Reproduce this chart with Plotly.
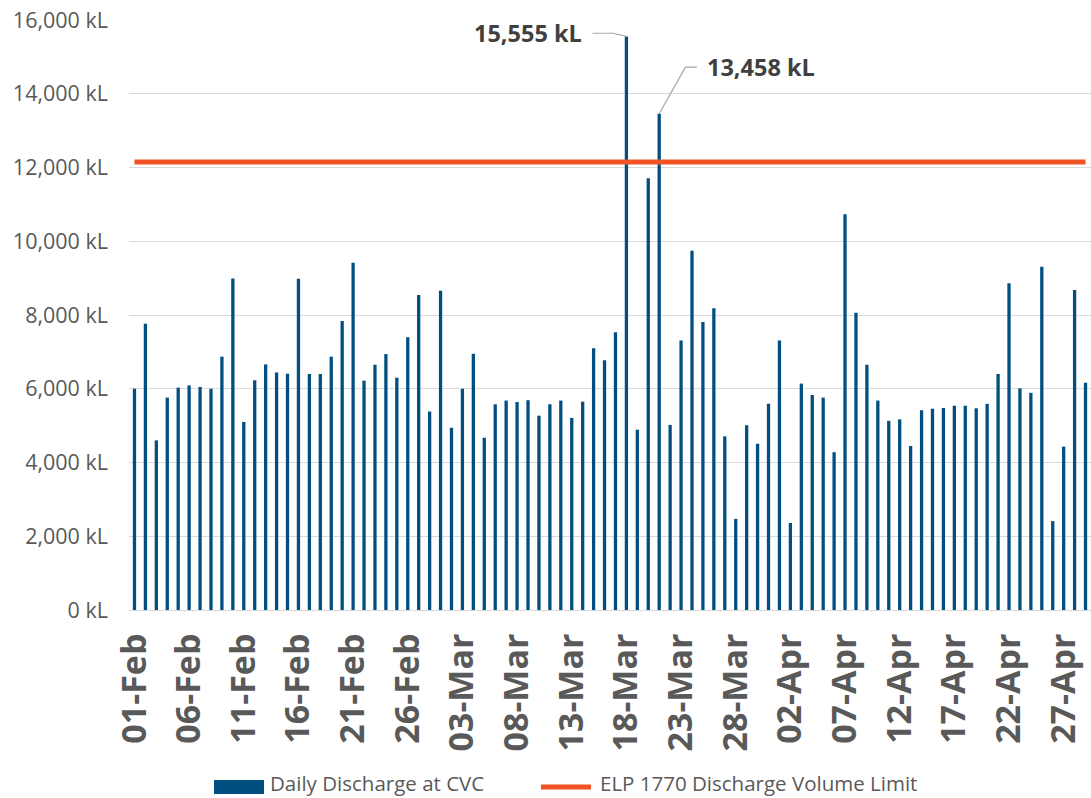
import pandas as pd
import plotly.graph_objects as go
from datetime import timedelta

# ---------------- data ----------------
start_date = "2023-02-01"
dates = pd.date_range(start_date, periods=88, freq="D")

discharge_kl = [
    6000, 7760, 4600, 5760, 6030, 6090, 6050, 6000, 6870, 8990,
    5100, 6230, 6660, 6440, 6410, 8980, 6400, 6400, 6870, 7840,
    9420, 6220, 6650, 6940, 6300, 7400, 8540, 5380, 8660, 4940,
    6000, 6950, 4670, 5580, 5680, 5640, 5690, 5270, 5580, 5680,
    5210, 5650, 7100, 6770, 7530, 15555, 4890, 11710, 13458, 5020,
    7310, 9740, 7810, 8180, 4710, 2470, 5010, 4510, 5590, 7310,
    2360, 6140, 5830, 5760, 4280, 10730, 8060, 6650, 5680, 5130,
    5170, 4450, 5420, 5460, 5480, 5540, 5540, 5470, 5590, 6400,
    8860, 6010, 5890, 9310, 2410, 4430, 8680, 6160,
]
limit_kl = [12150] * len(dates)

series_bar_name = "Daily Discharge at CVC"
series_line_name = "ELP 1770 Discharge Volume Limit"

y_ticks = [0, 2000, 4000, 6000, 8000, 10000, 12000, 14000, 16000]

BLUE = "#004F80"
ORANGE = "#F25325"
GRAY_TXT = "#595959"
DARK_TXT = "#404040"
GRID = "#D9D9D9"
FONT = "Open Sans"

day = timedelta(days=1)

fig = go.Figure()

fig.add_trace(go.Bar(
    x=dates, y=discharge_kl, name=series_bar_name,
    marker=dict(color=BLUE, line=dict(width=0)),
    width=0.3 * 86400000, showlegend=False,
))

fig.add_trace(go.Scatter(
    x=dates, y=limit_kl, name=series_line_name, mode="lines",
    line=dict(color=ORANGE, width=5), showlegend=False,
))

# callouts for the two peaks above the limit
i1 = discharge_kl.index(max(discharge_kl))
v1 = discharge_kl[i1]
d1 = dates[i1]
y1 = 15640
fig.add_trace(go.Scatter(
    x=[d1, d1 - 1.2 * day, d1 - 3.1 * day], y=[v1, y1, y1],
    mode="lines", line=dict(color="#A6A6A6", width=1.2),
    hoverinfo="skip", showlegend=False,
))
fig.add_annotation(
    x=d1 - 3.85 * day, y=y1, xref="x", yref="y", text=f"<b>{v1:,} kL</b>",
    showarrow=False, xanchor="right", yanchor="middle",
    font=dict(family=FONT, size=23.5, color=DARK_TXT),
)

i2 = 48
v2 = discharge_kl[i2]
d2 = dates[i2]
y2 = 14720
fig.add_trace(go.Scatter(
    x=[d2, d2 + 2.4 * day, d2 + 3.45 * day], y=[v2, y2, y2],
    mode="lines", line=dict(color="#A6A6A6", width=1.2),
    hoverinfo="skip", showlegend=False,
))
fig.add_annotation(
    x=d2 + 4.2 * day, y=y2, xref="x", yref="y", text=f"<b>{v2:,} kL</b>",
    showarrow=False, xanchor="left", yanchor="middle",
    font=dict(family=FONT, size=23.5, color=DARK_TXT),
)

# ---------------- legend (drawn manually) ----------------
L, T, W, H = 129, 20, 962, 590


def px(xp):
    return (xp - L) / W


def py(yp):
    return (T + H - yp) / H


fig.add_shape(type="rect", xref="paper", yref="paper",
              x0=px(214), x1=px(264), y0=py(794), y1=py(780),
              fillcolor=BLUE, line=dict(width=0))
fig.add_annotation(x=px(268), y=py(783), xref="paper", yref="paper",
                   text=series_bar_name, showarrow=False, xanchor="left",
                   yanchor="middle",
                   font=dict(family=FONT, size=20.5, color=GRAY_TXT))
fig.add_shape(type="line", xref="paper", yref="paper",
              x0=px(541), x1=px(591), y0=py(787), y1=py(787),
              line=dict(color=ORANGE, width=5))
fig.add_annotation(x=px(598), y=py(783), xref="paper", yref="paper",
                   text=series_line_name, showarrow=False, xanchor="left",
                   yanchor="middle",
                   font=dict(family=FONT, size=20.5, color=GRAY_TXT))

fig.update_layout(
    width=1091, height=798,
    margin=dict(l=L, r=1091 - L - W, t=T, b=798 - T - H, pad=0),
    paper_bgcolor="white", plot_bgcolor="white",
    bargap=0.7,
    showlegend=False,
    font=dict(family=FONT, color=GRAY_TXT),
)

fig.update_xaxes(
    type="date",
    range=[dates[0] - 0.5 * day, dates[-1] + 0.5 * day],
    tick0=start_date, dtick=5 * 86400000, tickformat="%d-%b",
    tickangle=-90,
    tickfont=dict(family=FONT, size=34, color=GRAY_TXT, weight="bold"),
    showgrid=False, showline=True, linecolor=GRID, linewidth=1,
    ticks="", ticklabelstandoff=9, zeroline=False,
)
fig.update_yaxes(
    range=[0, 16000], tickvals=y_ticks,
    ticktext=[f"{v:,} kL" for v in y_ticks],
    tickfont=dict(family=FONT, size=21.5, color=GRAY_TXT),
    showgrid=True, gridcolor=GRID, gridwidth=1,
    zeroline=False, showline=False, ticks="", ticklabelstandoff=20,
)

fig.write_html(
    "out.html",
    config={"displayModeBar": False},
    post_script="document.body.style.margin='0px';"
                "document.body.style.overflow='hidden';",
)
